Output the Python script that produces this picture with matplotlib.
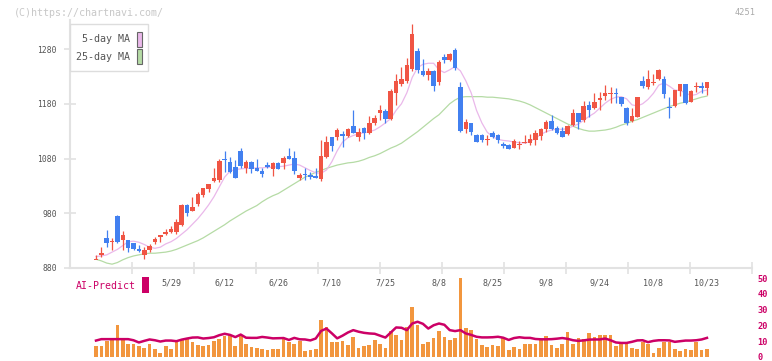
import matplotlib
matplotlib.use("Agg")
import matplotlib.pyplot as plt
from matplotlib.patches import Rectangle
import numpy as np

# ---- data (115 sessions) ----
opens = [896, 904, 935, 928, 975, 932, 931, 925, 915, 904, 912, 928, 937, 942, 945, 946, 959, 995, 985, 997,
         1013, 1025, 1039, 1041, 1079, 1074, 1064, 1094, 1062, 1074, 1063, 1057, 1069, 1060, 1071, 1072, 1085, 1081, 1045, 1051,
         1050, 1048, 1043, 1083, 1119, 1120, 1125, 1122, 1139, 1120, 1136, 1126, 1144, 1163, 1166, 1153, 1199, 1217, 1221, 1243,
         1276, 1240, 1232, 1240, 1219, 1265, 1260, 1278, 1210, 1134, 1144, 1123, 1123, 1113, 1126, 1123, 1106, 1105, 1100, 1105,
         1109, 1109, 1114, 1122, 1134, 1149, 1136, 1130, 1124, 1141, 1163, 1151, 1178, 1173, 1186, 1195, 1199, 1200, 1192, 1173,
         1148, 1156, 1222, 1211, 1218, 1225, 1225, 1174, 1175, 1204, 1216, 1184, 1210, 1213, 1209]
highs = [904, 918, 949, 935, 977, 947, 932, 926, 922, 918, 924, 937, 941, 952, 957, 970, 996, 996, 1010, 1018,
         1027, 1034, 1063, 1080, 1094, 1083, 1077, 1099, 1078, 1076, 1079, 1062, 1073, 1074, 1073, 1084, 1099, 1094, 1054, 1063,
         1055, 1062, 1114, 1121, 1120, 1135, 1131, 1136, 1169, 1136, 1137, 1158, 1159, 1177, 1170, 1207, 1234, 1248, 1263, 1326,
         1281, 1261, 1245, 1242, 1260, 1271, 1273, 1281, 1220, 1153, 1145, 1125, 1124, 1123, 1130, 1124, 1110, 1107, 1115, 1112,
         1123, 1124, 1132, 1135, 1150, 1160, 1139, 1137, 1141, 1170, 1164, 1185, 1185, 1200, 1201, 1214, 1211, 1209, 1193, 1174,
         1173, 1193, 1230, 1242, 1234, 1243, 1231, 1192, 1206, 1217, 1217, 1205, 1220, 1220, 1220]
lows = [896, 900, 919, 912, 926, 913, 910, 912, 910, 896, 910, 924, 928, 941, 944, 943, 956, 975, 984, 993,
        1010, 1019, 1038, 1038, 1056, 1054, 1045, 1063, 1054, 1053, 1057, 1047, 1063, 1048, 1060, 1061, 1079, 1051, 1040, 1040,
        1043, 1044, 1039, 1081, 1094, 1114, 1101, 1119, 1126, 1112, 1116, 1125, 1141, 1151, 1145, 1150, 1178, 1212, 1218, 1240,
        1236, 1230, 1224, 1204, 1215, 1254, 1258, 1241, 1128, 1126, 1123, 1110, 1111, 1104, 1117, 1108, 1100, 1097, 1099, 1098,
        1108, 1105, 1104, 1114, 1128, 1132, 1124, 1119, 1123, 1139, 1134, 1147, 1155, 1171, 1169, 1187, 1182, 1182, 1175, 1142,
        1147, 1155, 1208, 1207, 1215, 1223, 1191, 1154, 1174, 1195, 1180, 1183, 1202, 1200, 1196]
closes = [896, 907, 926, 930, 928, 940, 917, 915, 911, 913, 921, 933, 940, 946, 952, 964, 995, 981, 992, 1015,
          1026, 1033, 1044, 1075, 1077, 1056, 1045, 1067, 1074, 1061, 1058, 1052, 1065, 1072, 1061, 1081, 1080, 1058, 1050, 1049,
          1047, 1045, 1085, 1110, 1103, 1132, 1122, 1134, 1127, 1128, 1126, 1144, 1154, 1169, 1153, 1204, 1221, 1225, 1251, 1307,
          1241, 1232, 1240, 1212, 1257, 1260, 1271, 1245, 1130, 1146, 1129, 1111, 1113, 1115, 1119, 1113, 1103, 1098, 1112, 1107,
          1111, 1116, 1127, 1134, 1146, 1134, 1126, 1120, 1139, 1163, 1147, 1175, 1169, 1183, 1191, 1200, 1200, 1198, 1180, 1144,
          1158, 1192, 1213, 1226, 1220, 1242, 1197, 1172, 1205, 1216, 1181, 1203, 1212, 1209, 1219]

ma5 = [901, 902, 904, 909, 914, 921, 928, 929, 927, 923, 918, 916, 918, 924, 928, 934, 942, 950, 960, 970,
       982, 995, 1010, 1028, 1046, 1057, 1060, 1061, 1062, 1062, 1063, 1063, 1064, 1064, 1065, 1066, 1068, 1070, 1068, 1063,
       1058, 1054, 1053, 1059, 1074, 1094, 1110, 1118, 1122, 1125, 1127, 1129, 1132, 1138, 1145, 1153, 1168, 1180, 1200, 1228,
       1246, 1252, 1254, 1254, 1242, 1237, 1242, 1248, 1240, 1222, 1200, 1168, 1145, 1128, 1120, 1115, 1113, 1112, 1110, 1109,
       1108, 1111, 1117, 1124, 1129, 1132, 1134, 1133, 1135, 1139, 1143, 1150, 1157, 1163, 1172, 1181, 1188, 1192, 1193, 1189,
       1178, 1176, 1180, 1188, 1199, 1214, 1218, 1212, 1205, 1204, 1200, 1195, 1197, 1203, 1205]
ma25 = [896, 893, 889, 887, 890, 895, 899, 902, 904, 906, 907, 907, 908, 909, 911, 914, 918, 922, 926, 930,
        935, 941, 947, 953, 959, 966, 972, 978, 984, 989, 994, 1001, 1007, 1012, 1016, 1022, 1028, 1034, 1040, 1046,
        1050, 1055, 1058, 1062, 1065, 1068, 1070, 1072, 1073, 1075, 1078, 1082, 1085, 1089, 1094, 1099, 1103, 1108, 1115, 1122,
        1129, 1137, 1145, 1153, 1160, 1170, 1180, 1187, 1192, 1193, 1193, 1193, 1193, 1192, 1192, 1191, 1190, 1189, 1187, 1185,
        1182, 1178, 1173, 1168, 1163, 1158, 1153, 1148, 1143, 1139, 1135, 1132, 1130, 1130, 1131, 1132, 1134, 1137, 1141, 1144,
        1148, 1151, 1155, 1159, 1163, 1167, 1171, 1175, 1178, 1181, 1183, 1186, 1189, 1192, 1194]

volume = [6.8, 6.8, 10.0, 12.3, 20.0, 10.6, 8.5, 8.5, 6.8, 5.8, 8.1, 4.9, 2.8, 7.1, 4.9, 9.6, 11.1, 11.1, 9.2, 7.9,
          6.8, 7.4, 10.0, 11.7, 13.2, 14.0, 6.8, 13.8, 8.5, 6.4, 5.8, 5.3, 4.3, 4.9, 4.9, 11.7, 9.2, 8.5, 10.0, 3.7,
          4.3, 5.3, 23.3, 18.7, 9.2, 9.2, 10.0, 7.4, 12.8, 5.8, 7.1, 7.9, 10.6, 8.3, 5.5, 16.2, 13.8, 10.6, 18.7, 31.8,
          20.1, 8.5, 9.2, 12.3, 16.4, 12.8, 10.6, 12.3, 50.0, 18.1, 17.4, 11.7, 7.9, 6.4, 7.4, 6.8, 12.8, 4.3, 6.4, 4.9,
          8.5, 8.5, 8.5, 10.6, 13.4, 7.9, 5.8, 8.5, 16.0, 8.1, 12.3, 11.7, 14.9, 12.8, 13.8, 14.2, 13.8, 7.1, 8.1, 8.5,
          5.8, 4.9, 9.2, 8.5, 2.8, 5.8, 9.6, 9.6, 4.9, 3.7, 5.3, 4.3, 9.2, 4.3, 4.9]
ai_predict = [10.4, 11.3, 11.3, 11.3, 11.3, 11.3, 11.3, 10.6, 9.2, 10.2, 11.1, 10.6, 9.8, 10.4, 10.4, 10.0, 11.0, 11.7, 12.3, 12.4,
              11.7, 12.0, 12.5, 13.8, 14.7, 14.0, 12.6, 14.2, 12.2, 12.1, 12.1, 12.7, 12.3, 11.8, 11.9, 12.0, 10.8, 12.1, 11.2, 11.1,
              10.5, 11.7, 16.5, 18.0, 15.0, 11.8, 13.5, 15.5, 17.0, 16.0, 15.3, 14.9, 14.7, 13.5, 12.3, 15.5, 18.7, 18.5, 17.0, 21.2,
              22.3, 21.0, 18.0, 20.1, 21.2, 20.4, 17.0, 16.4, 17.0, 14.9, 14.0, 12.8, 12.4, 12.4, 12.5, 12.8, 12.2, 10.8, 12.0, 12.5,
              12.1, 12.1, 11.4, 11.2, 11.2, 11.3, 11.6, 12.0, 11.5, 10.6, 10.2, 10.5, 11.0, 11.1, 11.1, 11.7, 10.6, 9.2, 8.9, 8.9,
              9.6, 10.5, 10.6, 9.4, 10.2, 10.6, 10.6, 10.5, 9.6, 10.0, 10.4, 10.4, 10.6, 11.1, 12.1]

date_labels = ["5/29", "6/12", "6/26", "7/10", "7/25", "8/8", "8/25", "9/8", "9/24", "10/8", "10/23"]
date_index = [14, 24, 34, 44, 54, 64, 74, 84, 94, 104, 114]
price_ticks = [880, 980, 1080, 1180, 1280]
vol_ticks = [0, 10, 20, 30, 40, 50]

UP, DOWN = "#f05544", "#4280f0"
MAGENTA = "#cc0066"
GRID = "#e2e2e2"
TXT = "#555555"
MONO = "DejaVu Sans Mono"

W, H = 772, 361
fig = plt.figure(figsize=(W / 100, H / 100), dpi=100)


def fx(x):
    return x / W


def fy(y):
    return 1 - y / H


x = np.arange(len(closes))
xlim = (-4.85, 122.4)

# ---- main price panel ----
ax = fig.add_axes([fx(70), fy(268), fx(752) - fx(70), fy(20) - fy(268)])
ax.set_xlim(*xlim)
ax.set_ylim(880, 1333)

ax.plot(x, ma25, color="#b5dba5", lw=0.9, zorder=1)
ax.plot(x, ma5, color="#eab8ea", lw=0.9, zorder=1)

o = np.array(opens, float)
c = np.array(closes, float)
up = c >= o
cols = np.where(up, UP, DOWN)
body_lo = np.minimum(o, c)
body_h = np.maximum(np.abs(c - o), 1.6)
ax.vlines(x, lows, highs, colors=cols, lw=0.9, zorder=2)
ax.bar(x, body_h, bottom=body_lo - np.where(np.abs(c - o) < 1.6, 0.8, 0), width=0.85,
       color=cols, linewidth=0, zorder=3)

for s in ("top", "right"):
    ax.spines[s].set_visible(False)
for s in ("left", "bottom"):
    ax.spines[s].set_color(GRID)
    ax.spines[s].set_linewidth(1.5)
ax.set_yticks(price_ticks)
ax.set_yticklabels([str(v) for v in price_ticks], family=MONO, fontsize=5.8, color=TXT)
ax.tick_params(axis="y", direction="inout", length=9, width=1.2, color=GRID, pad=5)
ax.set_xticks(np.linspace(xlim[0], xlim[1], 12)[1:])
ax.set_xticklabels([])
ax.tick_params(axis="x", direction="inout", length=9, width=1.2, color=GRID)

lab_tr = matplotlib.transforms.blended_transform_factory(ax.transData, fig.transFigure)
for lbl, idx in zip(date_labels, date_index):
    fig.text(idx, fy(282.5), lbl, transform=lab_tr, ha="center", va="center",
             family=MONO, fontsize=6, color=TXT)

# legend box
fig.patches.append(Rectangle((fx(70.3), fy(71)), fx(78), fy(24.3) - fy(71), transform=fig.transFigure,
                             facecolor="white", edgecolor="#dddddd", lw=1, zorder=5))
for lbl, yc, col in (("5-day MA", 39.5, "#eab8ea"), ("25-day MA", 56.5, "#b5dba5")):
    fig.text(fx(129.5), fy(yc), lbl, ha="right", va="center", family=MONO, fontsize=7.2,
             color=TXT, zorder=6)
    fig.patches.append(Rectangle((fx(136.7), fy(yc + 7.3)), fx(5.6), fy(yc - 7.3) - fy(yc + 7.3),
                                 transform=fig.transFigure, facecolor=col, edgecolor="#666666",
                                 lw=0.8, zorder=6))

# ---- lower panel: volume + AI-Predict ----
ax2 = fig.add_axes([fx(70), fy(357), fx(752) - fx(70), fy(278) - fy(357)])
ax2.set_xlim(*xlim)
ax2.set_ylim(0, 50)
ax2.bar(x, volume, width=0.69, color="#f2963e", linewidth=0, zorder=1)
ax2.plot(x, ai_predict, color=MAGENTA, lw=1.8, zorder=2, clip_on=False)
for s in ax2.spines.values():
    s.set_visible(False)
ax2.set_xticks([])
ax2.yaxis.tick_right()
ax2.set_yticks(vol_ticks)
ax2.set_yticklabels([str(v) for v in vol_ticks], family=MONO, fontsize=6.2,
                    color=MAGENTA, fontweight="bold")
ax2.tick_params(axis="y", length=0, pad=4)

fig.text(fx(76), fy(286), "AI-Predict", ha="left", va="center", family=MONO, fontsize=7.1, color=MAGENTA)
fig.patches.append(Rectangle((fx(142.3), fy(292.7)), fx(6.7), fy(276.7) - fy(292.7),
                             transform=fig.transFigure, facecolor=MAGENTA, lw=0))

# watermark / code
fig.text(fx(14), fy(12.5), "(C)https://chartnavi.com/", ha="left", va="center",
         family=MONO, fontsize=7.2, color="#c8c8c8")
fig.text(fx(756), fy(12.5), "4251", ha="right", va="center", family=MONO, fontsize=6.2, color="#aaaaaa")

fig.savefig("out.png", dpi=100)
